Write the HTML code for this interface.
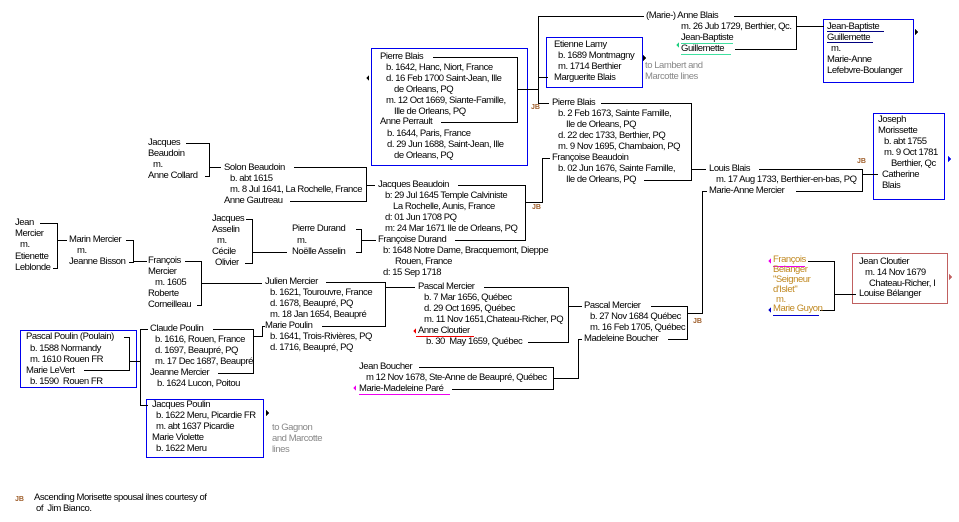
<!DOCTYPE html>
<html><head><meta charset="utf-8">
<style>
html,body{margin:0;padding:0;background:#fff;}
#c{position:relative;width:959px;height:522px;overflow:hidden;background:#fff;}
.t{position:absolute;white-space:nowrap;font-family:"Liberation Sans",sans-serif;font-size:9.5px;letter-spacing:-0.45px;line-height:11px;color:#000;}
.g{color:#888;}
.o{color:#c08820;}
.jb{position:absolute;font-family:"Liberation Sans",sans-serif;font-size:7px;font-weight:bold;color:#a0602d;line-height:8px;}
svg{position:absolute;left:0;top:0;}
</style></head><body><div id="c">
<svg width="959" height="522" shape-rendering="crispEdges">
<g fill="none" stroke="#000" stroke-width="1">
<rect x="371.5" y="48.5" width="156" height="117" stroke="#0000ee"/>
<rect x="546.5" y="37.5" width="96" height="50" stroke="#0000ee"/>
<rect x="823.5" y="19.5" width="90" height="63" stroke="#0000ee"/>
<rect x="873.5" y="113.5" width="71" height="86" stroke="#0000ee"/>
<rect x="20.5" y="330.5" width="116" height="57" stroke="#0000ee"/>
<rect x="146.5" y="399.5" width="117" height="58" stroke="#0000ee"/>
<rect x="852.5" y="253.5" width="95" height="50" stroke="#c06060"/>
<polyline points="433,57.5 517.5,57.5 517.5,122.5 441,122.5"/>
<line x1="517" y1="89.5" x2="538" y2="89.5"/>
<polyline points="644,16.5 538.5,16.5 538.5,103.5 549,103.5"/>
<line x1="538" y1="77.5" x2="548" y2="77.5"/>
<polyline points="734,16.5 796.5,16.5 796.5,49.5 735,49.5"/>
<line x1="796" y1="26.5" x2="824" y2="26.5"/>
<polyline points="601,103.5 691.5,103.5 691.5,180.5 644,180.5"/>
<line x1="691" y1="169.5" x2="706" y2="169.5"/>
<polyline points="550,158.5 542.5,158.5 542.5,202.5 525,202.5"/>
<polyline points="759,169.5 862.5,169.5 862.5,191.5 796,191.5"/>
<line x1="862" y1="174.5" x2="878" y2="174.5"/>
<polyline points="707,191.5 702.5,191.5 702.5,313.5 687,313.5"/>
<polyline points="186,143.5 209.5,143.5 209.5,176.5 205,176.5"/>
<line x1="209" y1="167.5" x2="221" y2="167.5"/>
<polyline points="294,167.5 366.5,167.5 366.5,201.5 290,201.5"/>
<line x1="366" y1="185.5" x2="375" y2="185.5"/>
<polyline points="458,185.5 525.5,185.5 525.5,240.5 455,240.5"/>
<polyline points="40,223.5 57.5,223.5 57.5,268.5 53,268.5"/>
<line x1="57" y1="240.5" x2="67" y2="240.5"/>
<polyline points="126,240.5 133.5,240.5 133.5,262.5 129,262.5"/>
<line x1="133" y1="261.5" x2="147" y2="261.5"/>
<polyline points="185,261.5 201.5,261.5 201.5,305.5 197,305.5"/>
<line x1="201" y1="283.5" x2="262" y2="283.5"/>
<polyline points="246,219.5 252.5,219.5 252.5,263.5 245,263.5"/>
<line x1="252" y1="252.5" x2="287" y2="252.5"/>
<polyline points="356,229.5 361.5,229.5 361.5,252.5 356,252.5"/>
<line x1="361" y1="240.5" x2="376" y2="240.5"/>
<polyline points="326,282.5 385.5,282.5 385.5,326.5 322,326.5"/>
<line x1="385" y1="287.5" x2="415" y2="287.5"/>
<polyline points="484,287.5 568.5,287.5 568.5,342.5 528,342.5"/>
<line x1="568" y1="306.5" x2="582" y2="306.5"/>
<polyline points="651,306.5 687.5,306.5 687.5,339.5 668,339.5"/>
<polyline points="582,339.5 578.5,339.5 578.5,378.5 553,378.5"/>
<polyline points="419,367.5 553.5,367.5 553.5,389.5 452,389.5"/>
<polyline points="124,337.5 129.5,337.5 129.5,370.5 84,370.5"/>
<line x1="129" y1="361.5" x2="141" y2="361.5"/>
<polyline points="148,329.5 140.5,329.5 140.5,405.5 148,405.5"/>
<polyline points="213,329.5 253.5,329.5 253.5,373.5 218,373.5"/>
<polyline points="253,336.5 262.5,336.5 262.5,326.5 265,326.5"/>
<polyline points="808,261.5 834.5,261.5 834.5,310.5 820,310.5"/>
<line x1="834" y1="294.5" x2="856" y2="294.5"/>
<line x1="681" y1="43.5" x2="733" y2="43.5" stroke="#40e0a0"/>
<line x1="681" y1="54.5" x2="731" y2="54.5" stroke="#40e0a0"/>
<line x1="827" y1="31.5" x2="884" y2="31.5" stroke="#000080"/>
<line x1="827" y1="42.5" x2="873" y2="42.5" stroke="#000080"/>
<line x1="416" y1="336.5" x2="474" y2="336.5" stroke="#ee0000"/>
<line x1="359" y1="394.5" x2="450" y2="394.5" stroke="#ee00ee"/>
<line x1="773" y1="266.5" x2="805" y2="266.5" stroke="#ee00ee"/>
<line x1="773" y1="315.5" x2="819" y2="315.5" stroke="#0000cc"/>
</g>
<polygon points="366,78 369,75 369,81" fill="#000"/>
<polygon points="646,58 643,55 643,61" fill="#000"/>
<polygon points="676,45 679,42 679,48" fill="#20d080"/>
<polygon points="918,32 915,29 915,35" fill="#000"/>
<polygon points="951,159 948,156 948,162" fill="#0000ee"/>
<polygon points="269,413 266,410 266,416" fill="#000"/>
<polygon points="413,331 416,328 416,334" fill="#ee0000"/>
<polygon points="353,388 356,385 356,391" fill="#ee00ee"/>
<polygon points="768,261 771,258 771,264" fill="#ee00ee"/>
<polygon points="768,310 771,307 771,313" fill="#0000cc"/>
<polygon points="952,277 949,274 949,280" fill="#c06060"/>
</svg>

<div class="jb" style="left:531px;top:104px">JB</div>
<div class="jb" style="left:532px;top:204px">JB</div>
<div class="jb" style="left:857px;top:158px">JB</div>
<div class="jb" style="left:693px;top:318px">JB</div>
<div class="jb" style="left:15px;top:496px">JB</div>

<div class="t" style="left:380px;top:51px">Pierre Blais</div>
<div class="t" style="left:386px;top:62px">b. 1642, Hanc, Niort, France</div>
<div class="t" style="left:386px;top:73px">d. 16 Feb 1700 Saint-Jean, Ille</div>
<div class="t" style="left:394px;top:84px">de Orleans, PQ</div>
<div class="t" style="left:386px;top:95px">m. 12 Oct 1669, Siante-Famille,</div>
<div class="t" style="left:394px;top:106px">Ille de Orleans, PQ</div>
<div class="t" style="left:380px;top:116px">Anne Perrault</div>
<div class="t" style="left:387px;top:128px">b. 1644, Paris, France</div>
<div class="t" style="left:387px;top:139px">d. 29 Jun 1688, Saint-Jean, Ille</div>
<div class="t" style="left:394px;top:150px">de Orleans, PQ</div>

<div class="t" style="left:554px;top:39px">Etienne Lamy</div>
<div class="t" style="left:558px;top:50px">b. 1689 Montmagny</div>
<div class="t" style="left:558px;top:61px">m. 1714 Berthier</div>
<div class="t" style="left:554px;top:72px">Marguerite Blais</div>
<div class="t g" style="left:645px;top:60px">to Lambert and</div>
<div class="t g" style="left:645px;top:71px">Marcotte lines</div>

<div class="t" style="left:646px;top:10px">(Marie-) Anne Blais</div>
<div class="t" style="left:681px;top:21px">m. 26 Jub 1729, Berthier, Qc.</div>
<div class="t" style="left:681px;top:32px">Jean-Baptiste</div>
<div class="t" style="left:681px;top:43px">Guillemette</div>

<div class="t" style="left:827px;top:21px">Jean-Baptiste</div>
<div class="t" style="left:827px;top:32px">Guillemette</div>
<div class="t" style="left:831px;top:43px">m.</div>
<div class="t" style="left:827px;top:54px">Marie-Anne</div>
<div class="t" style="left:827px;top:65px">Lefebvre-Boulanger</div>

<div class="t" style="left:552px;top:97px">Pierre Blais</div>
<div class="t" style="left:558px;top:108px">b. 2 Feb 1673, Sainte Famille,</div>
<div class="t" style="left:566px;top:119px">Ile de Orleans, PQ</div>
<div class="t" style="left:558px;top:130px">d. 22 dec 1733, Berthier, PQ</div>
<div class="t" style="left:558px;top:141px">m. 9 Nov 1695, Chambaion, PQ</div>
<div class="t" style="left:552px;top:152px">Françoise Beaudoin</div>
<div class="t" style="left:558px;top:163px">b. 02 Jun 1676, Sainte Famille,</div>
<div class="t" style="left:566px;top:174px">Ile de Orleans, PQ</div>

<div class="t" style="left:878px;top:114px">Joseph</div>
<div class="t" style="left:878px;top:125px">Morissette</div>
<div class="t" style="left:884px;top:136px">b. abt 1755</div>
<div class="t" style="left:884px;top:147px">m. 9 Oct 1781</div>
<div class="t" style="left:891px;top:158px">Berthier, Qc</div>
<div class="t" style="left:882px;top:169px">Catherine</div>
<div class="t" style="left:882px;top:180px">Blais</div>

<div class="t" style="left:709px;top:163px">Louis Blais</div>
<div class="t" style="left:716px;top:174px">m. 17 Aug 1733, Berthier-en-bas, PQ</div>
<div class="t" style="left:709px;top:185px">Marie-Anne Mercier</div>

<div class="t" style="left:148px;top:137px">Jacques</div>
<div class="t" style="left:148px;top:148px">Beaudoin</div>
<div class="t" style="left:153px;top:159px">m.</div>
<div class="t" style="left:148px;top:170px">Anne Collard</div>

<div class="t" style="left:224px;top:162px">Solon Beaudoin</div>
<div class="t" style="left:230px;top:173px">b. abt 1615</div>
<div class="t" style="left:230px;top:184px">m. 8 Jul 1641, La Rochelle, France</div>
<div class="t" style="left:224px;top:195px">Anne Gautreau</div>

<div class="t" style="left:378px;top:179px">Jacques Beaudoin</div>
<div class="t" style="left:385px;top:190px">b: 29 Jul 1645 Temple Calviniste</div>
<div class="t" style="left:393px;top:201px">La Rochelle, Aunis, France</div>
<div class="t" style="left:385px;top:212px">d: 01 Jun 1708 PQ</div>
<div class="t" style="left:385px;top:223px">m: 24 Mar 1671 Ile de Orleans, PQ</div>
<div class="t" style="left:378px;top:234px">Françoise Durand</div>
<div class="t" style="left:383px;top:245px">b: 1648 Notre Dame, Bracquemont, Dieppe</div>
<div class="t" style="left:395px;top:256px">Rouen, France</div>
<div class="t" style="left:383px;top:267px">d: 15 Sep 1718</div>

<div class="t" style="left:15px;top:217px">Jean</div>
<div class="t" style="left:15px;top:228px">Mercier</div>
<div class="t" style="left:20px;top:239px">m.</div>
<div class="t" style="left:15px;top:251px">Etienette</div>
<div class="t" style="left:15px;top:262px">Leblonde</div>

<div class="t" style="left:69px;top:234px">Marin Mercier</div>
<div class="t" style="left:77px;top:245px">m.</div>
<div class="t" style="left:69px;top:256px">Jeanne Bisson</div>

<div class="t" style="left:148px;top:255px">François</div>
<div class="t" style="left:148px;top:266px">Mercier</div>
<div class="t" style="left:155px;top:277px">m. 1605</div>
<div class="t" style="left:148px;top:288px">Roberte</div>
<div class="t" style="left:148px;top:299px">Corneilleau</div>

<div class="t" style="left:212px;top:213px">Jacques</div>
<div class="t" style="left:212px;top:224px">Asselin</div>
<div class="t" style="left:217px;top:235px">m.</div>
<div class="t" style="left:212px;top:246px">Cécile</div>
<div class="t" style="left:215px;top:257px">Olivier</div>

<div class="t" style="left:292px;top:223px">Pierre Durand</div>
<div class="t" style="left:297px;top:235px">m.</div>
<div class="t" style="left:292px;top:246px">Noëlle Asselin</div>

<div class="t" style="left:265px;top:276px">Julien Mercier</div>
<div class="t" style="left:270px;top:287px">b. 1621, Tourouvre, France</div>
<div class="t" style="left:270px;top:298px">d. 1678, Beaupré, PQ</div>
<div class="t" style="left:270px;top:309px">m. 18 Jan 1654, Beaupré</div>
<div class="t" style="left:265px;top:320px">Marie Poulin</div>
<div class="t" style="left:270px;top:331px">b. 1641, Trois-Rivières, PQ</div>
<div class="t" style="left:270px;top:342px">d. 1716, Beaupré, PQ</div>

<div class="t" style="left:418px;top:281px">Pascal Mercier</div>
<div class="t" style="left:424px;top:292px">b. 7 Mar 1656, Québec</div>
<div class="t" style="left:424px;top:303px">d. 29 Oct 1695, Québec</div>
<div class="t" style="left:424px;top:314px">m. 11 Nov 1651,Chateau-Richer, PQ</div>
<div class="t" style="left:418px;top:325px">Anne Cloutier</div>
<div class="t" style="left:426px;top:336px">b. 30&nbsp; May 1659, Québec</div>

<div class="t" style="left:584px;top:300px">Pascal Mercier</div>
<div class="t" style="left:590px;top:311px">b. 27 Nov 1684 Québec</div>
<div class="t" style="left:590px;top:322px">m. 16 Feb 1705, Québec</div>
<div class="t" style="left:584px;top:333px">Madeleine Boucher</div>

<div class="t" style="left:359px;top:361px">Jean Boucher</div>
<div class="t" style="left:366px;top:372px">m 12 Nov 1678, Ste-Anne de Beaupré, Québec</div>
<div class="t" style="left:359px;top:383px">Marie-Madeleine Paré</div>

<div class="t" style="left:26px;top:331px">Pascal Poulin (Poulain)</div>
<div class="t" style="left:30px;top:343px">b. 1588 Normandy</div>
<div class="t" style="left:30px;top:354px">m. 1610 Rouen FR</div>
<div class="t" style="left:26px;top:365px">Marie LeVert</div>
<div class="t" style="left:30px;top:376px">b. 1590&nbsp; Rouen FR</div>

<div class="t" style="left:150px;top:323px">Claude Poulin</div>
<div class="t" style="left:155px;top:334px">b. 1616, Rouen, France</div>
<div class="t" style="left:155px;top:345px">d. 1697, Beaupré, PQ</div>
<div class="t" style="left:155px;top:356px">m. 17 Dec 1687, Beaupré</div>
<div class="t" style="left:150px;top:367px">Jeanne Mercier</div>
<div class="t" style="left:157px;top:378px">b. 1624 Lucon, Poitou</div>

<div class="t" style="left:152px;top:399px">Jacques Poulin</div>
<div class="t" style="left:156px;top:410px">b. 1622 Meru, Picardie FR</div>
<div class="t" style="left:156px;top:421px">m. abt 1637 Picardie</div>
<div class="t" style="left:152px;top:432px">Marie Violette</div>
<div class="t" style="left:156px;top:443px">b. 1622 Meru</div>
<div class="t g" style="left:272px;top:422px">to Gagnon</div>
<div class="t g" style="left:272px;top:433px">and Marcotte</div>
<div class="t g" style="left:272px;top:444px">lines</div>

<div class="t o" style="left:773px;top:255px;line-height:10px">François</div>
<div class="t o" style="left:773px;top:265px;line-height:10px">Belanger</div>
<div class="t o" style="left:773px;top:275px;line-height:10px">"Seigneur</div>
<div class="t o" style="left:773px;top:285px;line-height:10px">d'Islet"</div>
<div class="t o" style="left:776px;top:295px;line-height:10px">m.</div>
<div class="t o" style="left:773px;top:304px;line-height:10px">Marie Guyon</div>

<div class="t" style="left:859px;top:256px">Jean Cloutier</div>
<div class="t" style="left:865px;top:267px">m. 14 Nov 1679</div>
<div class="t" style="left:869px;top:278px">Chateau-Richer, I</div>
<div class="t" style="left:859px;top:288px">Louise Bélanger</div>

<div class="t" style="left:34px;top:492px">Ascending Morisette spousal ilnes courtesy of</div>
<div class="t" style="left:36px;top:503px">of&nbsp; Jim Bianco.</div>
</div></body></html>
